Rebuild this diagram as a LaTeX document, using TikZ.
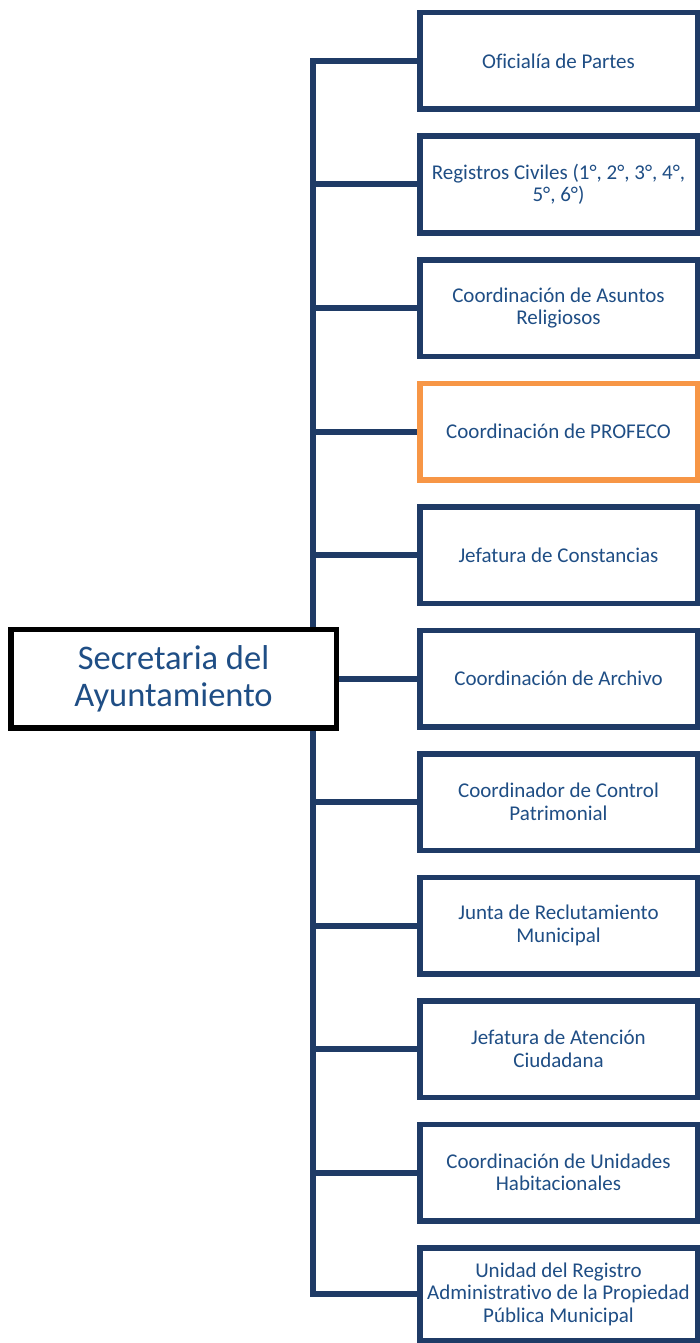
\documentclass[tikz,border=0pt]{standalone}
\usepackage{fontspec}
\setmainfont{Carlito}[Ligatures=NoCommon]
\usetikzlibrary{backgrounds}
\definecolor{navy}{HTML}{1F3B66}
\definecolor{txtblue}{HTML}{1F4E85}
\definecolor{orng}{HTML}{F79646}
\begin{document}
\begin{tikzpicture}[x=1pt,y=-1pt,
  unit/.style={draw=navy, line width=5.5pt, fill=white, minimum width=277.5pt,
    minimum height=96.5pt, inner sep=0pt, outer sep=0pt, align=center,
    text=txtblue, font=\fontsize{21}{22.5}\selectfont},
  headbox/.style={draw=black, line width=5.5pt, fill=white, minimum width=325.5pt,
    minimum height=98.5pt, inner sep=0pt, outer sep=0pt, align=center,
    text=txtblue, font=\fontsize{34.5}{37}\selectfont},
  link/.style={draw=navy, line width=6pt}]
\useasboundingbox (0,0) rectangle (700,1343);
\coordinate (sp) at (312.5,0);
\node[headbox] (main) at (173.5,678.5) {Secretaria del\\Ayuntamiento};
\node[unit] (b1) at (558.5,61) {Oficialía de Partes};
\node[unit] (b2) at (558.5,184.5) {Registros Civiles (1°, 2°, 3°, 4°,\\5°, 6°)};
\node[unit] (b3) at (558.5,308) {Coordinación de Asuntos\\Religiosos};
\node[unit, draw=orng] (b4) at (558.5,431.5) {Coordinación de PROFECO};
\node[unit] (b5) at (558.5,555) {Jefatura de Constancias};
\node[unit] (b6) at (558.5,678.5) {Coordinación de Archivo};
\node[unit] (b7) at (558.5,802) {Coordinador de Control\\Patrimonial};
\node[unit] (b8) at (558.5,925.5) {Junta de Reclutamiento\\Municipal};
\node[unit] (b9) at (558.5,1049) {Jefatura de Atención\\Ciudadana};
\node[unit] (b10) at (558.5,1172.5) {Coordinación de Unidades\\Habitacionales};
\node[unit, minimum height=92.5pt] (b11) at (558.5,1294) {Unidad del Registro\\Administrativo de la Propiedad\\Pública Municipal};
\begin{pgfonlayer}{background}
\draw[link] (b1.west) -- (b1.west -| sp) -- (b11.west -| sp) -- (b11.west);
\foreach \i in {2,...,10} \draw[link] (b\i.west -| sp) -- (b\i.west);
\draw[link] (main.east) -- (b6.west);
\end{pgfonlayer}
\end{tikzpicture}
\end{document}
